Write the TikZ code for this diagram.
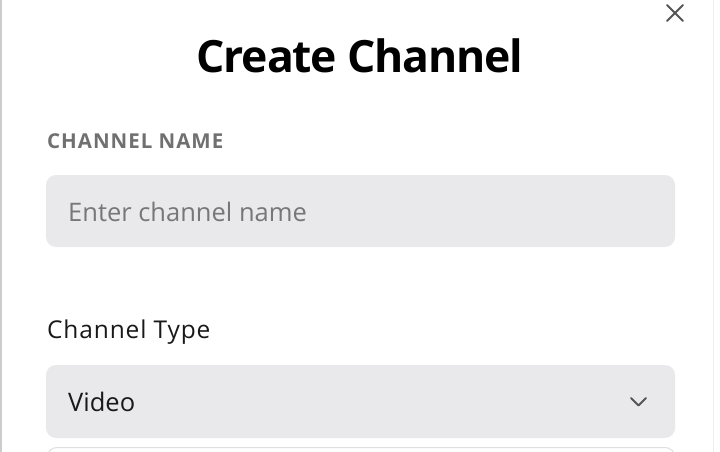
\documentclass[tikz,border=0pt]{standalone}
\usepackage{fontspec}
\setmainfont{Open Sans}
\newfontfamily\titlefont[LetterSpace=-2.6]{Open Sans}
\newfontfamily\capsfont[LetterSpace=4.8]{Open Sans}
\newfontfamily\typefont[LetterSpace=3.5]{Open Sans}
\begin{document}
\begin{tikzpicture}[x=1pt,y=-1pt,
  field/.style={fill=fieldgray,rounded corners=10pt},
  lbl/.style={anchor=base west,inner sep=0pt},
  icon/.style={draw=icongray,line width=2pt,line cap=round,line join=round}]
\definecolor{fieldgray}{HTML}{E9E9EB}
\definecolor{icongray}{HTML}{555555}
\definecolor{labelgray}{HTML}{707070}
\definecolor{phgray}{HTML}{777777}
\definecolor{bordergray}{HTML}{CCCCCC}
\useasboundingbox[fill=white] (0,0) rectangle (720,452);
% side borders
\draw[bordergray,line width=1.5pt] (1,0) -- (1,452);
\draw[black!7,line width=1pt] (713,0) -- (713,452);
% close icon
\coordinate (xa) at (667,5); \coordinate (xb) at (683,21);
\coordinate (xc) at (683,5); \coordinate (xd) at (667,21);
\draw[icon] (xa) -- (xb);
\draw[icon] (xc) -- (xd);
% title
\node[anchor=base,inner sep=0pt,font=\titlefont\fontsize{44.5}{50}\selectfont\bfseries] (title) at (360,73) {Create Channel};
% channel name label
\node[lbl,font=\capsfont\fontsize{20.5}{24}\selectfont\bfseries,text=labelgray] (namelbl) at (47,148.5) {CHANNEL NAME};
% input field
\path[field] (46,175) rectangle (675,247);
\node[lbl,font=\fontsize{25.5}{30}\selectfont,text=phgray] (ph) at (68,221) {Enter channel name};
% channel type
\node[lbl,font=\typefont\fontsize{24.5}{28}\selectfont,text=black!90] (typelbl) at (47,338.3) {Channel Type};
\path[field] (46,365) rectangle (675,438);
\node[lbl,font=\fontsize{25.5}{30}\selectfont,text=black!90] (video) at (68,411) {Video};
% chevron
\coordinate (ca) at (631,398); \coordinate (cb) at (638.5,405.5); \coordinate (cc) at (646,398);
\draw[icon,line width=1.8pt] (ca) -- (cb) -- (cc);
% next field (cut off)
\draw[black!13,line width=1pt,rounded corners=10pt] (47,470) -- (47,447.5) -- (675,447.5) -- (675,470);
\end{tikzpicture}
\end{document}
